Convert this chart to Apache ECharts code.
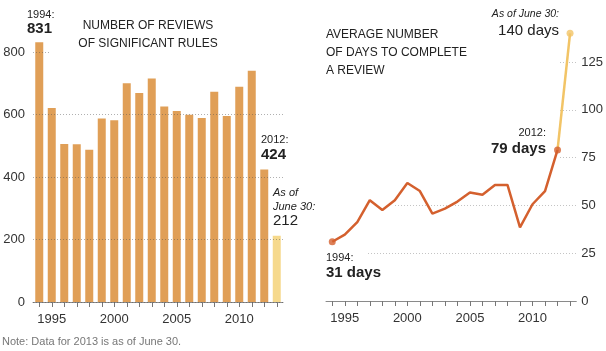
<!DOCTYPE html>
<html>
<head>
<meta charset="utf-8">
<script src="https://cdn.jsdelivr.net/npm/echarts@6/dist/echarts.min.js"></script>
<style>
  html, body { margin: 0; padding: 0; background: #fff; }
  #chart { width: 606px; height: 351px; }
</style>
</head>
<body>
<div id="chart"></div>
<script>
var years = ['1994', '1995', '1996', '1997', '1998', '1999', '2000', '2001', '2002', '2003',
             '2004', '2005', '2006', '2007', '2008', '2009', '2010', '2011', '2012', '2013'];
// number of reviews of significant rules (2013 is partial, as of June 30)
var reviews = [831, 621, 506, 505, 487, 587, 582, 700, 669, 715,
               626, 611, 599, 589, 673, 595, 689, 740, 424, 212];
// average number of days to complete a review
var days = [31, 34.7, 41.3, 52.7, 47.6, 52.7, 61.7, 57.5, 45.7, 48.3,
            52, 56.7, 55.6, 60.7, 60.7, 38.5, 50.6, 57.5, 79, 140];
var yearLabels = ['1995', '2000', '2005', '2010'];
var reviewTicks = [0, 200, 400, 600, 800];
var dayTicks = [0, 25, 50, 75, 100, 125];

var FONT = '"Liberation Sans", Arial, sans-serif';
var BAR = '#e09f57';
var BAR_PART = '#f6d98c';
var LINE = '#d4602e';
var LINE_PART = '#f2c466';

var last = years.length - 1;

var myChart = echarts.init(document.getElementById('chart'));

function xAxisFor(grid) {
    return {
        type: 'category',
        gridIndex: grid,
        data: years,
        boundaryGap: true,
        axisLine: { show: true, lineStyle: { color: '#8a8a8a', width: 1 } },
        axisTick: { show: true, alignWithLabel: true, interval: 0, length: 5, lineStyle: { color: '#777' } },
        axisLabel: {
            interval: 0,
            margin: 11,
            fontFamily: FONT,
            fontSize: 13,
            color: '#333',
            formatter: function (v) { return yearLabels.indexOf(v) >= 0 ? v : ''; }
        },
        splitLine: { show: false }
    };
}

option = {
    animation: false,
    textStyle: { fontFamily: FONT },
    grid: [
        { left: 33, width: 250, top: 52, height: 250 },
        { left: 326, width: 251, top: 62, height: 239 }
    ],
    xAxis: [xAxisFor(0), xAxisFor(1)],
    yAxis: [
        {
            type: 'value',
            gridIndex: 0,
            min: reviewTicks[0],
            max: reviewTicks[reviewTicks.length - 1],
            interval: 200,
            z: 3,
            axisLine: { show: false },
            axisTick: { show: false },
            axisLabel: { margin: 8, fontFamily: FONT, fontSize: 13, color: '#333' },
            splitLine: { lineStyle: { type: [1, 2], color: 'rgba(80,80,80,0.45)' } }
        },
        {
            type: 'value',
            gridIndex: 1,
            position: 'right',
            min: dayTicks[0],
            max: dayTicks[dayTicks.length - 1],
            interval: 25,
            axisLine: { show: false },
            axisTick: { show: false },
            axisLabel: { margin: 5, fontFamily: FONT, fontSize: 13, color: '#333' },
            splitLine: { lineStyle: { type: [1, 2], color: '#c4c4c4' } }
        }
    ],
    series: [
        {
            name: 'reviews',
            type: 'bar',
            xAxisIndex: 0,
            yAxisIndex: 0,
            clip: false,
            barWidth: 8,
            data: reviews.map(function (v, i) {
                return { value: v, itemStyle: { color: i === last ? BAR_PART : BAR } };
            })
        },
        {
            name: 'days',
            type: 'line',
            xAxisIndex: 1,
            yAxisIndex: 1,
            clip: false,
            showSymbol: false,
            lineStyle: { color: LINE, width: 2.5 },
            data: days.map(function (v, i) { return i < last ? v : null; })
        },
        {
            name: 'days partial',
            type: 'line',
            xAxisIndex: 1,
            yAxisIndex: 1,
            clip: false,
            showSymbol: false,
            lineStyle: { color: LINE_PART, width: 2.5 },
            data: days.map(function (v, i) { return i >= last - 1 ? v : null; })
        },
        {
            name: 'dots',
            type: 'scatter',
            xAxisIndex: 1,
            yAxisIndex: 1,
            clip: false,
            symbolSize: 7,
            z: 4,
            data: [
                { value: [years[0], days[0]], itemStyle: { color: LINE } },
                { value: [years[last - 1], days[last - 1]], itemStyle: { color: LINE } },
                { value: [years[last], days[last]], itemStyle: { color: LINE_PART } }
            ]
        }
    ],
    graphic: [
        // masks that hide parts of the dotted gridlines behind the text blocks
        { type: 'rect', z: 4, shape: { x: 49, y: 46, width: 240, height: 12 }, style: { fill: '#fff' } },
        { type: 'rect', z: 1, shape: { x: 320, y: 55, width: 238, height: 108 }, style: { fill: '#fff' } },
        { type: 'rect', z: 1, shape: { x: 320, y: 200, width: 75, height: 12 }, style: { fill: '#fff' } },
        { type: 'rect', z: 1, shape: { x: 320, y: 249, width: 47, height: 12 }, style: { fill: '#fff' } },

        // titles
        { type: 'text', z: 10, x: 148, y: 35, style: {
            text: 'NUMBER OF REVIEWS\nOF SIGNIFICANT RULES', font: '12px ' + FONT, fill: '#222',
            align: 'center', verticalAlign: 'middle', lineHeight: 18 } },
        { type: 'text', z: 10, x: 326, y: 35, style: {
            text: 'AVERAGE NUMBER\nOF DAYS TO COMPLETE\nA REVIEW', font: '12px ' + FONT, fill: '#222',
            align: 'left', verticalAlign: 'top', lineHeight: 18 }, top: 26 },

        // left annotations
        { type: 'text', z: 10, x: 27, y: 14.5, style: { text: '1994:', font: '11px ' + FONT, fill: '#222', verticalAlign: 'middle' } },
        { type: 'text', z: 10, x: 27, y: 29, style: { text: '831', font: 'bold 15px ' + FONT, fill: '#222', verticalAlign: 'middle' } },
        { type: 'text', z: 10, x: 261, y: 140, style: { text: '2012:', font: '11px ' + FONT, fill: '#222', verticalAlign: 'middle' } },
        { type: 'text', z: 10, x: 261, y: 155, style: { text: '424', font: 'bold 15px ' + FONT, fill: '#222', verticalAlign: 'middle' } },
        { type: 'text', z: 10, x: 273, y: 193, style: { text: 'As of', font: 'italic 11px ' + FONT, fill: '#222', verticalAlign: 'middle' } },
        { type: 'text', z: 10, x: 273, y: 207, style: { text: 'June 30:', font: 'italic 11px ' + FONT, fill: '#222', verticalAlign: 'middle' } },
        { type: 'text', z: 10, x: 273, y: 221, style: { text: '212', font: '15px ' + FONT, fill: '#222', verticalAlign: 'middle' } },

        // right annotations
        { type: 'text', z: 10, x: 559, y: 14.5, style: { text: 'As of June 30:', font: 'italic 10.5px ' + FONT, fill: '#222', align: 'right', verticalAlign: 'middle' } },
        { type: 'text', z: 10, x: 559, y: 30.5, style: { text: '140 days', font: '15px ' + FONT, fill: '#222', align: 'right', verticalAlign: 'middle' } },
        { type: 'text', z: 10, x: 546, y: 133, style: { text: '2012:', font: '11px ' + FONT, fill: '#222', align: 'right', verticalAlign: 'middle' } },
        { type: 'text', z: 10, x: 546, y: 148.5, style: { text: '79 days', font: 'bold 15px ' + FONT, fill: '#222', align: 'right', verticalAlign: 'middle' } },
        { type: 'text', z: 10, x: 326, y: 257.5, style: { text: '1994:', font: '11px ' + FONT, fill: '#222', verticalAlign: 'middle' } },
        { type: 'text', z: 10, x: 326, y: 272.5, style: { text: '31 days', font: 'bold 15px ' + FONT, fill: '#222', verticalAlign: 'middle' } },

        // note
        { type: 'text', z: 10, x: 2, y: 342, style: { text: 'Note: Data for 2013 is as of June 30.', font: '11px ' + FONT, fill: '#777', verticalAlign: 'middle' } }
    ]
};
myChart.setOption(option);
</script>
</body>
</html>
